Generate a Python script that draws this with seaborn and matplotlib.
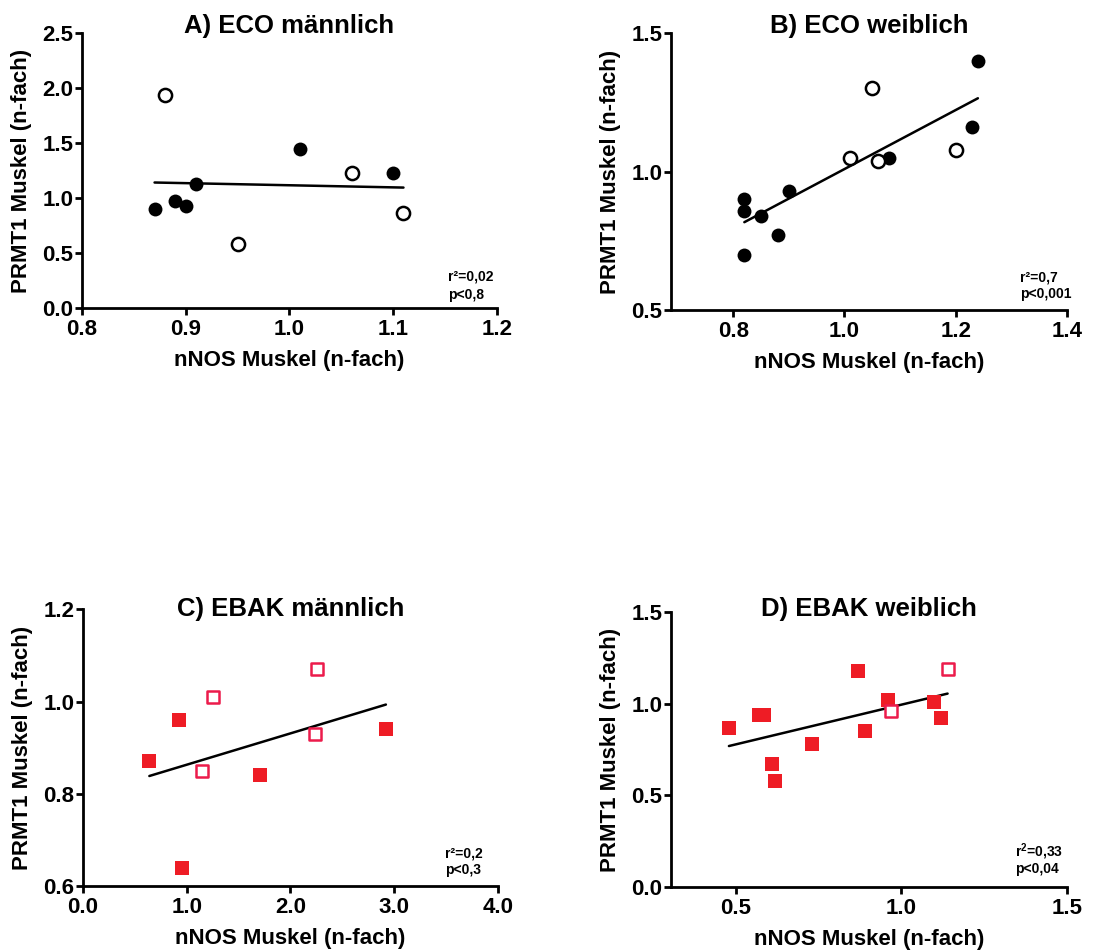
import numpy as np
import pandas as pd
import matplotlib
matplotlib.use("Agg")
import matplotlib.pyplot as plt
import seaborn as sns

# ---------------- data ----------------
# A) ECO maennlich
a_fill_x = [0.87, 0.89, 0.90, 0.91, 1.01, 1.10]
a_fill_y = [0.90, 0.97, 0.93, 1.13, 1.45, 1.23]
a_open_x = [0.88, 0.95, 1.06, 1.11]
a_open_y = [1.94, 0.58, 1.23, 0.86]
# B) ECO weiblich
b_fill_x = [0.82, 0.82, 0.85, 0.90, 0.88, 0.82, 1.08, 1.23, 1.24]
b_fill_y = [0.90, 0.86, 0.84, 0.93, 0.77, 0.70, 1.05, 1.16, 1.40]
b_open_x = [1.01, 1.05, 1.06, 1.20]
b_open_y = [1.05, 1.30, 1.04, 1.08]
# C) EBAK maennlich
c_fill_x = [0.64, 0.93, 0.95, 1.71, 2.92]
c_fill_y = [0.87, 0.96, 0.64, 0.84, 0.94]
c_open_x = [1.25, 1.15, 2.26, 2.24]
c_open_y = [1.01, 0.85, 1.07, 0.93]
# D) EBAK weiblich
d_fill_x = [0.48, 0.57, 0.585, 0.61, 0.62, 0.73, 0.87, 0.89, 0.96, 1.10, 1.12]
d_fill_y = [0.87, 0.94, 0.94, 0.67, 0.58, 0.78, 1.18, 0.85, 1.02, 1.01, 0.92]
d_open_x = [0.97, 1.14]
d_open_y = [0.96, 1.19]

titles = ["A) ECO männlich", "B) ECO weiblich", "C) EBAK männlich", "D) EBAK weiblich"]
stats_r = ["r²=0,02", "r²=0,7", "r²=0,2", "r$^\\mathbf{2}$=0,33"]
stats_p = ["p<0,8", "p<0,001", "p<0,3", "p<0,04"]

x_ticks = [[0.8, 0.9, 1.0, 1.1, 1.2], [0.8, 1.0, 1.2, 1.4], [0.0, 1.0, 2.0, 3.0, 4.0], [0.5, 1.0, 1.5]]
y_ticks = [[0.0, 0.5, 1.0, 1.5, 2.0, 2.5], [0.5, 1.0, 1.5], [0.6, 0.8, 1.0, 1.2], [0.0, 0.5, 1.0, 1.5]]
x_lims = [(0.8, 1.2), (0.688, 1.4), (0.0, 4.0), (0.305, 1.5)]
y_lims = [(0.0, 2.5), (0.5, 1.5), (0.6, 1.2), (0.0, 1.5)]

xlabel = "nNOS Muskel (n-fach)"
ylabel = "PRMT1 Muskel (n-fach)"

# ---------------- style ----------------
sns.set_theme(style="ticks")
plt.rcParams["font.family"] = ["Liberation Sans", "DejaVu Sans"]
plt.rcParams["font.weight"] = "bold"
plt.rcParams["axes.labelweight"] = "bold"
plt.rcParams["axes.titleweight"] = "bold"
plt.rcParams["mathtext.fontset"] = "custom"
plt.rcParams["mathtext.bf"] = "Liberation Sans:bold"
plt.rcParams["mathtext.rm"] = "Liberation Sans:bold"

fig = plt.figure(figsize=(11.09, 9.52), dpi=100)
positions = [
    [0.0739, 0.6765, 0.448 - 0.0739, 0.9653 - 0.6765],
    [0.605, 0.674, 0.962 - 0.605, 0.9653 - 0.674],
    [0.0748, 0.0693, 0.449 - 0.0748, 0.360 - 0.0693],
    [0.605, 0.0683, 0.962 - 0.605, 0.357 - 0.0683],
]
title_pads = [0, 0, -4.5, -2.5]
txt_pos = [(0.882, 0.113, 0.047), (0.881, 0.119, 0.058), (0.872, 0.119, 0.058), (0.869, 0.127, 0.065)]

panels = [
    (a_fill_x, a_fill_y, a_open_x, a_open_y, "o"),
    (b_fill_x, b_fill_y, b_open_x, b_open_y, "o"),
    (c_fill_x, c_fill_y, c_open_x, c_open_y, "s"),
    (d_fill_x, d_fill_y, d_open_x, d_open_y, "s"),
]

red_fill = "#EE1C25"
red_open = "#EC1B4B"

for i, (fx, fy, ox, oy, mk) in enumerate(panels):
    ax = fig.add_axes(positions[i])
    df_f = pd.DataFrame({"x": fx, "y": fy})
    df_o = pd.DataFrame({"x": ox, "y": oy})
    df_all = pd.concat([df_f, df_o], ignore_index=True)
    sns.regplot(data=df_all, x="x", y="y", ax=ax, scatter=False, ci=None,
                truncate=True, line_kws=dict(color="black", lw=1.8))
    if mk == "o":
        sns.scatterplot(data=df_f, x="x", y="y", ax=ax, marker="o", s=100,
                        color="black", edgecolor="black", linewidth=0, zorder=3)
        sns.scatterplot(data=df_o, x="x", y="y", ax=ax, marker="o", s=90,
                        facecolor="white", edgecolor="black", linewidth=1.8, zorder=3)
    else:
        sns.scatterplot(data=df_f, x="x", y="y", ax=ax, marker="s", s=90,
                        color=red_fill, edgecolor=red_fill, linewidth=0, zorder=3)
        sns.scatterplot(data=df_o, x="x", y="y", ax=ax, marker="s", s=80,
                        facecolor="white", edgecolor=red_open, linewidth=1.8, zorder=3)
    ax.set_xlim(*x_lims[i])
    ax.set_ylim(*y_lims[i])
    ax.set_xticks(x_ticks[i])
    ax.set_yticks(y_ticks[i])
    ax.set_xticklabels([f"{v:.1f}" for v in x_ticks[i]])
    ax.set_yticklabels([f"{v:.1f}" for v in y_ticks[i]])
    for s in ["top", "right"]:
        ax.spines[s].set_visible(False)
    for s in ["left", "bottom"]:
        ax.spines[s].set_linewidth(2.0)
        ax.spines[s].set_color("black")
    ax.tick_params(axis="both", direction="out", length=5, width=2.0,
                   labelsize=16, color="black", labelcolor="black")
    ax.tick_params(axis="x", pad=3)
    ax.tick_params(axis="y", pad=1)
    ax.set_xlabel(xlabel, fontsize=16, fontweight="bold", labelpad=7, color="black")
    ax.set_ylabel(ylabel, fontsize=16, fontweight="bold", labelpad=8, color="black")
    ax.set_title(titles[i], fontsize=18.5, fontweight="bold", y=1.0,
                 pad=title_pads[i], color="black")
    tx, ty1, ty2 = txt_pos[i]
    ax.text(tx, ty1, stats_r[i], transform=ax.transAxes, fontsize=10,
            fontweight="bold", ha="left", va="center", color="black")
    ax.text(tx, ty2, stats_p[i], transform=ax.transAxes, fontsize=10,
            fontweight="bold", ha="left", va="center", color="black")
    ax.set_facecolor("white")

fig.savefig("out.png", dpi=100, facecolor="white")
